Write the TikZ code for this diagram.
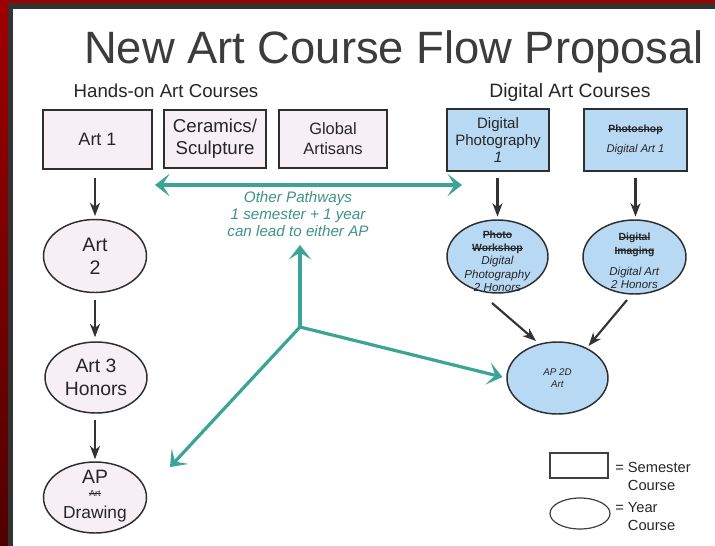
\documentclass[tikz,border=0pt]{standalone}
\usepackage{fontspec}
\setmainfont{Liberation Sans}
\usetikzlibrary{shapes.geometric,arrows.meta,calc}
\definecolor{framered}{HTML}{A00000}
\definecolor{framegray}{HTML}{333333}
\definecolor{titlegray}{HTML}{3C3C3C}
\definecolor{linegray}{HTML}{2E2E2E}
\definecolor{pinkfill}{HTML}{F6EFF3}
\definecolor{bluefill}{HTML}{B8D9F4}
\definecolor{tealc}{HTML}{3AA597}
\definecolor{tealtext}{HTML}{3F938A}
\newcommand{\strk}[1]{\sbox0{#1}\rlap{\usebox0}\rule[0.3em]{\wd0}{0.55pt}}
\newcommand{\fs}[2]{\fontsize{#1}{#2}\selectfont}
\tikzset{ttip/.tip={Stealth[length=11pt,width=17pt,inset=5.5pt]}}
\begin{document}
\begin{tikzpicture}[x=0.75pt,y=-0.75pt,
  semb/.style={draw=linegray, line width=1.1pt, rectangle, inner sep=0pt},
  yearb/.style={draw=linegray, line width=1.1pt, ellipse, inner sep=0pt},
  txt/.style={align=center, inner sep=0pt, text=black!85},
  blk/.style={draw=black!80, line width=1.6pt, -{Stealth[length=10pt,width=7.5pt,inset=3pt]}},
  tl/.style={draw=tealc, line width=2.4pt}
]
\useasboundingbox (0,0) rectangle (715,546);
% frame
\shade[top color=framered, bottom color=framered!50!black] (0,0) rectangle (715,546);
\fill[framegray] (8,3) rectangle (715,546);
\fill[white] (13,9) rectangle (715,546);

% titles
\node[txt, anchor=base, text=titlegray, font=\fs{34}{40}] (title) at (394,63) {New Art Course Flow Proposal};
\node[txt, anchor=base, font=\fs{14}{16}] (hhands) at (166,97) {Hands-on Art Courses};
\node[txt, anchor=base, font=\fs{14.5}{16}] (hdig) at (570,97) {Digital Art Courses};

% semester boxes
\node[semb, fill=pinkfill, minimum width=81.75pt, minimum height=44.25pt] (a1) at (97.5,139.5) {};
\node[semb, fill=pinkfill, minimum width=76.5pt, minimum height=43.5pt] (cer) at (215,139) {};
\node[semb, fill=pinkfill, minimum width=81pt, minimum height=43.5pt] (glob) at (333,139) {};
\node[semb, fill=bluefill, minimum width=76.5pt, minimum height=46.5pt] (dp1) at (498,140) {};
\node[semb, fill=bluefill, minimum width=77.25pt, minimum height=46.5pt] (ps) at (635.5,140) {};

\node[txt, font=\fs{13.5}{16}] (a1t) at (a1) {Art 1};
\node[txt, font=\fs{14}{16.5}] (cert) at (cer) {Ceramics/\\Sculpture};
\node[txt, font=\fs{12.3}{15}] (globt) at (glob) {Global\\Artisans};
\node[txt, font=\fs{11.3}{13}] (dp1t) at (dp1) {Digital\\Photography\\\textit{1}};
\node[txt, font=\fs{8.4}{15}] (pst) at (ps) {{\fs{7.8}{15}\bfseries\strk{Photoshop}}\\\textit{Digital Art 1}};

% year ellipses
\node[yearb, fill=pinkfill, minimum width=77.25pt, minimum height=54.75pt] (a2) at (95,256) {};
\node[yearb, fill=pinkfill, minimum width=76.5pt, minimum height=53.25pt] (a3) at (96,377.5) {};
\node[yearb, fill=pinkfill, minimum width=77.25pt, minimum height=53.25pt] (apd) at (95,497.5) {};
\node[yearb, fill=bluefill, minimum width=75.75pt, minimum height=54.75pt] (pw) at (497.5,256.5) {};
\node[yearb, fill=bluefill, minimum width=77.25pt, minimum height=55.5pt] (di) at (634.5,257) {};
\node[yearb, fill=bluefill, minimum width=75.75pt, minimum height=54pt] (ap2d) at (557.5,378) {};

\node[txt, font=\fs{14.7}{17.5}] (a2t) at (a2) {Art\\2};
\node[txt, font=\fs{14.5}{17.5}] (a3t) at (a3) {Art 3\\Honors};
\node[txt, anchor=base, font=\fs{14.5}{16}] (apt1) at (95,483) {AP};
\node[txt, anchor=base, font=\fs{6.5}{8}] (apt2) at (95,496) {\strk{Art}};
\node[txt, anchor=base, font=\fs{13}{16}] (apt3) at (95,518) {Drawing};
\node[txt, font=\fs{8.7}{10}] (pwt) at (497.5,261) {{\fs{7.8}{10}\bfseries\strk{Photo}}\\{\fs{7.8}{10}\bfseries\strk{Workshop}}\\\textit{Digital}\\\textit{Photography}\\\textit{2 Honors}};
\node[txt, font=\fs{8.6}{10}] (dit) at (634.5,261) {{\fs{7.8}{10}\bfseries\strk{Digital}}\\{\fs{7.8}{10}\bfseries\strk{Imaging}}\\[6pt]\textit{Digital Art}\\\textit{2 Honors}};
\node[txt, font=\fs{7.3}{9.5}] (ap2dt) at (ap2d) {\textit{AP 2D}\\\textit{Art}};

% black arrows
\draw[blk, shorten <=6pt, shorten >=2pt] (a2.north |- a1.south) -- (a2.north);
\draw[blk, shorten <=5pt, shorten >=3pt] (a2.south) -- (a2.south |- a3.north);
\draw[blk, shorten <=5pt, shorten >=1.5pt] (apd.north |- a3.south) -- (apd.north);
\draw[blk, shorten <=4.5pt, shorten >=2pt] (pw.north |- dp1.south) -- (pw.north);
\draw[blk, shorten <=4.5pt, shorten >=2pt] (ps.south) -- (ps.south |- di.north);
\draw[blk] ($(pw.center)+(-5.5,46.5)$) -- ($(ap2d.center)+(-21.5,-37)$);
\draw[blk] ($(di.center)+(-7.5,43)$) -- ($(ap2d.center)+(31,-32)$);

% teal pathways
\coordinate (hl) at (155,185);
\coordinate (hr) at (462,185);
\coordinate (j) at (300,327);
\coordinate (up) at (300,245);
\coordinate (apdtip) at (170,467);
\draw[tl, {ttip}-{ttip}] (hl) -- (hr);
\draw[tl, -{ttip}] (j) -- (up);
\draw[tl, -{ttip}, shorten >=3pt] (j) -- (ap2d.west);
\draw[tl, -{ttip}] (j) -- (apdtip);
\node[txt, text=tealtext, font=\fs{11.4}{12.75}\itshape] (other) at (298,214) {Other Pathways\\1 semester + 1 year\\can lead to either AP};

% legend
\node[semb, draw=black!75, line width=0.9pt, minimum width=43.5pt, minimum height=18.75pt] (lrect) at (579,465.5) {};
\node[yearb, draw=black!75, line width=0.9pt, minimum width=45pt, minimum height=23.25pt] (lell) at (580,513.5) {};
\node[txt, anchor=west, align=left, font=\fs{11}{13.5}] (lsem) at (615,476) {= Semester\\\phantom{= }Course};
\node[txt, anchor=west, align=left, font=\fs{11}{13.5}] (lyear) at (615,517) {= Year\\\phantom{= }Course};
\end{tikzpicture}
\end{document}
